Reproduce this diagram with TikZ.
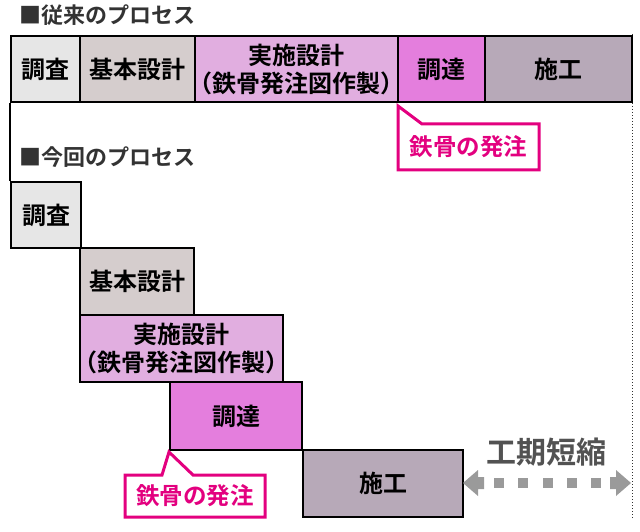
\documentclass[tikz,border=0pt]{standalone}
\usepackage{fontspec}
\setmainfont{Noto Sans CJK JP}[BoldFont={Noto Sans CJK JP Bold}]
\definecolor{cChosa}{HTML}{E6E6E6}
\definecolor{cKihon}{HTML}{D5CDCD}
\definecolor{cJisshi}{HTML}{E1AEE0}
\definecolor{cChotatsu}{HTML}{E47EDD}
\definecolor{cSeko}{HTML}{B7A9B8}
\definecolor{cPink}{HTML}{E3007F}
\definecolor{cHead}{HTML}{333333}
\definecolor{cArrow}{HTML}{9A9A9A}
\tikzset{
  stage/.style={draw=black, line width=2.4pt, anchor=north west, inner sep=0pt,
    font=\bfseries\fontsize{24}{28}\selectfont, align=center},
  callout/.style={draw=cPink, line width=3pt, fill=white, line join=miter},
  callouttext/.style={text=cPink, font=\bfseries\fontsize{23.5}{26}\selectfont, inner sep=0pt},
  header/.style={text=cHead, font=\bfseries\fontsize{22}{24}\selectfont, anchor=west, inner sep=0pt},
}
\newcommand{\jisshitext}{実施設計\\\kern-.45em（鉄骨発注図作製）\kern-.45em}
\begin{document}
\begin{tikzpicture}[x=1pt,y=-1pt]
\useasboundingbox (0,0) rectangle (640,532);
% headers
\node[header] (h1) at (19,15) {■従来のプロセス};
\node[header] (h2) at (19,157) {■今回のプロセス};
% dotted line
\coordinate (dt) at (632,34);
\coordinate (db) at (632,518);
\draw[cHead, line width=1pt, dotted] (dt) -- (db);
% top row
\node[stage, fill=cChosa, minimum width=69pt, minimum height=66pt] (a1) at (10,35) {調査};
\node[stage, fill=cKihon, minimum width=115pt, minimum height=66pt] (a2) at (79,35) {基本設計};
\node[stage, fill=cJisshi, minimum width=203pt, minimum height=66pt] (a3) at (194,35) {\jisshitext};
\node[stage, fill=cChotatsu, minimum width=87pt, minimum height=66pt] (a4) at (397,35) {調達};
\node[stage, fill=cSeko, minimum width=147pt, minimum height=66pt] (a5) at (484,35) {施工};
% callout top
\draw[callout] (398,106) -- (422,124) -- (539,124) -- (539,170) -- (398,170) -- cycle;
\node[callouttext] (c1) at (468.5,147) {鉄骨の発注};
% bottom staircase
\node[stage, fill=cChosa, minimum width=70pt, minimum height=66pt] (b1) at (10,181) {調査};
\draw[black, line width=2pt] (a1.south west) -- (b1.north west);
\node[stage, fill=cKihon, minimum width=114pt, minimum height=67pt] (b2) at (79,247) {基本設計};
\node[stage, fill=cJisshi, minimum width=203pt, minimum height=67pt] (b3) at (79,314) {\jisshitext};
\node[stage, fill=cChotatsu, minimum width=132pt, minimum height=68pt] (b4) at (169,381) {調達};
\node[stage, fill=cSeko, minimum width=160pt, minimum height=67pt] (b5) at (302,449) {施工};
% callout bottom
\draw[callout] (169,452) -- (193,475) -- (265,475) -- (265,517) -- (125,517) -- (125,475) -- (162,475) -- cycle;
\node[callouttext] (c2) at (195,496) {鉄骨の発注};
% shortening label and arrow
\node[text=cHead!85, font=\bfseries\fontsize{30}{32}\selectfont, inner sep=0pt] (k) at (546,452) {工期短縮};
\fill[cArrow] (463,483) -- (478,470) -- (478,477) -- (484,477) -- (484,489) -- (478,489) -- (478,496) -- cycle;
\foreach \x in {494,518,543,567,591} {
  \fill[cArrow] (\x,478) rectangle ++(10,10);
}
\fill[cArrow] (631,483) -- (616,470) -- (616,477) -- (610,477) -- (610,489) -- (616,489) -- (616,496) -- cycle;
\end{tikzpicture}
\end{document}
